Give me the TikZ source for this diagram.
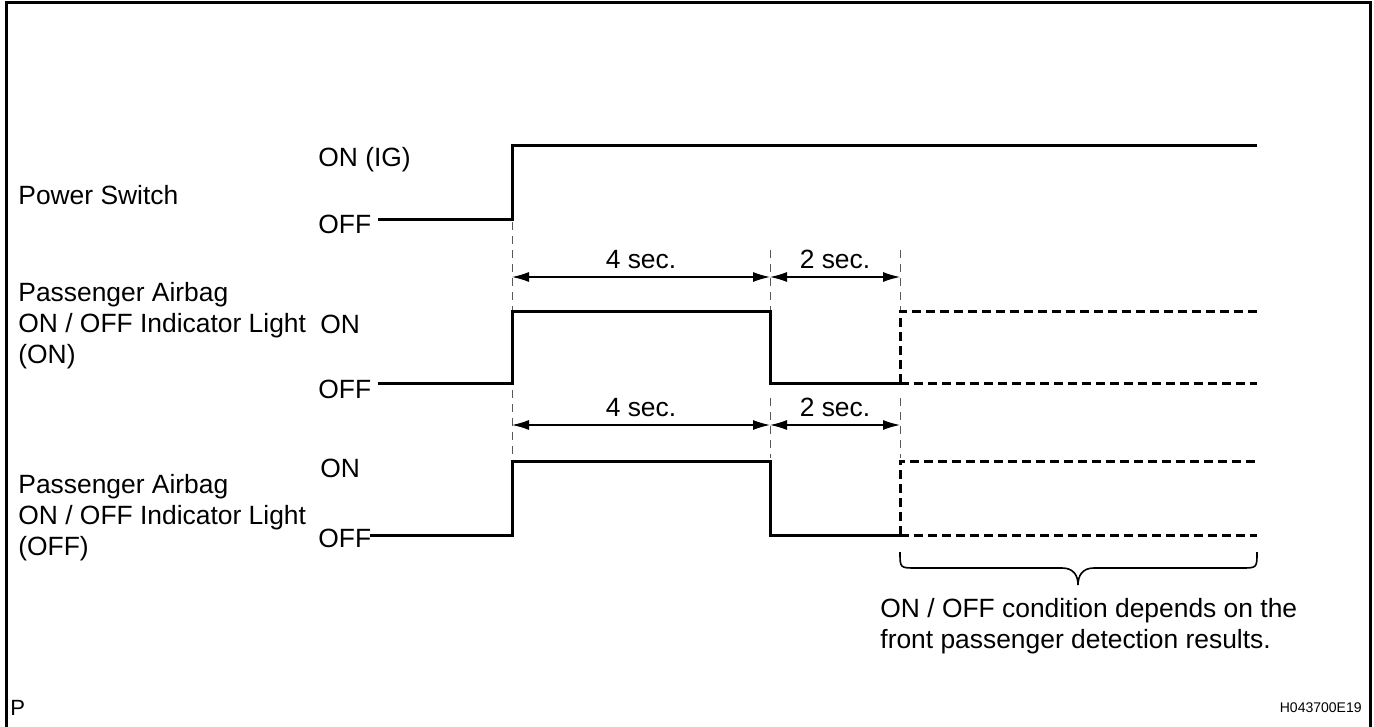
\documentclass[tikz,border=0pt]{standalone}
\usepackage{fontspec}
\setmainfont{Liberation Sans}
\usetikzlibrary{arrows.meta}
\begin{document}
\begin{tikzpicture}[x=0.5pt,y=-0.5pt,
  wave/.style={line width=1.5pt,line join=miter},
  dwave/.style={line width=1.5pt,dash pattern=on 4.5pt off 2.5pt},
  guide/.style={line width=0.4pt,gray!70!black,dash pattern=on 4pt off 3pt},
  dim/.style={line width=0.6pt,{Latex[length=8.5pt,width=5pt]}-{Latex[length=8.5pt,width=5pt]}},
  lbl/.style={font=\fontsize{13.2}{15.5}\selectfont,inner sep=0pt,align=left},
  frame/.style={line width=1.5pt}]
\useasboundingbox (0,0) rectangle (1374,727);
% frame (left, top, right)
\draw[frame] (6,727) -- (6,3) -- (1370,3) -- (1370,727);
\node[lbl,anchor=west] (p) at (10,708) {\fontsize{11}{12}\selectfont P};
\node[lbl,anchor=east] (code) at (1362,708) {\fontsize{7}{8}\selectfont H043700E19};

% row labels
\node[lbl,anchor=west] (ps) at (18,195) {Power Switch};
\node[lbl,anchor=west] (l1) at (18,326) {Passenger Airbag\\ON / OFF Indicator Light\\(ON)};
\node[lbl,anchor=west] (l2) at (18,518) {Passenger Airbag\\ON / OFF Indicator Light\\(OFF)};

% level labels
\node[lbl,anchor=west] (psOn) at (318,160) {ON (IG)};
\node[lbl,anchor=west] (psOff) at (318,224) {OFF};
\node[lbl,anchor=west] (aOn) at (320,324) {ON};
\node[lbl,anchor=west] (aOff) at (318,389) {OFF};
\node[lbl,anchor=west] (bOn) at (320,468) {ON};
\node[lbl,anchor=west] (bOff) at (318,538) {OFF};

% guides
\draw[guide] (512,222) -- (512,458);
\draw[guide] (770,250) -- (770,310);
\draw[guide] (770,398) -- (770,458);
\draw[guide] (900,250) -- (900,310);
\draw[guide] (900,398) -- (900,458);

% power switch
\draw[wave] (378,220) -- (512,220) -- (512,146) -- (1257,146);

% dims row 1
\coordinate (d1a) at (512,277);
\coordinate (d1b) at (770,277);
\coordinate (d1c) at (900,277);
\draw[dim] (d1a) -- node[lbl,above=4pt] {4 sec.} (d1b);
\draw[dim] (d1b) -- node[lbl,above=4pt] {2 sec.} (d1c);

% light (ON)
\draw[wave] (378,383) -- (512,383) -- (512,311) -- (770,311) -- (770,383) -- (900,383);
\draw[dwave] (900,383) -- (900,311) -- (1257,311);
\draw[dwave] (900,383) -- (1257,383);

% dims row 2
\coordinate (d2a) at (512,425);
\coordinate (d2b) at (770,425);
\coordinate (d2c) at (900,425);
\draw[dim] (d2a) -- node[lbl,above=4pt] {4 sec.} (d2b);
\draw[dim] (d2b) -- node[lbl,above=4pt] {2 sec.} (d2c);

% light (OFF)
\draw[wave] (370,535) -- (512,535) -- (512,461) -- (770,461) -- (770,535) -- (900,535);
\draw[dwave] (900,535) -- (900,461) -- (1257,461);
\draw[dwave] (900,535) -- (1257,535);

% brace
\draw[line width=0.8pt] (900,552) .. controls (900,568) .. (916,568) -- (1062,568)
  .. controls (1074,568) and (1078,576) .. (1078,585)
  .. controls (1078,576) and (1082,568) .. (1094,568) -- (1241,568)
  .. controls (1257,568) .. (1257,552);
\node[lbl,anchor=north west] (note) at (880,598) {ON / OFF condition depends on the\\front passenger detection results.};
\end{tikzpicture}
\end{document}
